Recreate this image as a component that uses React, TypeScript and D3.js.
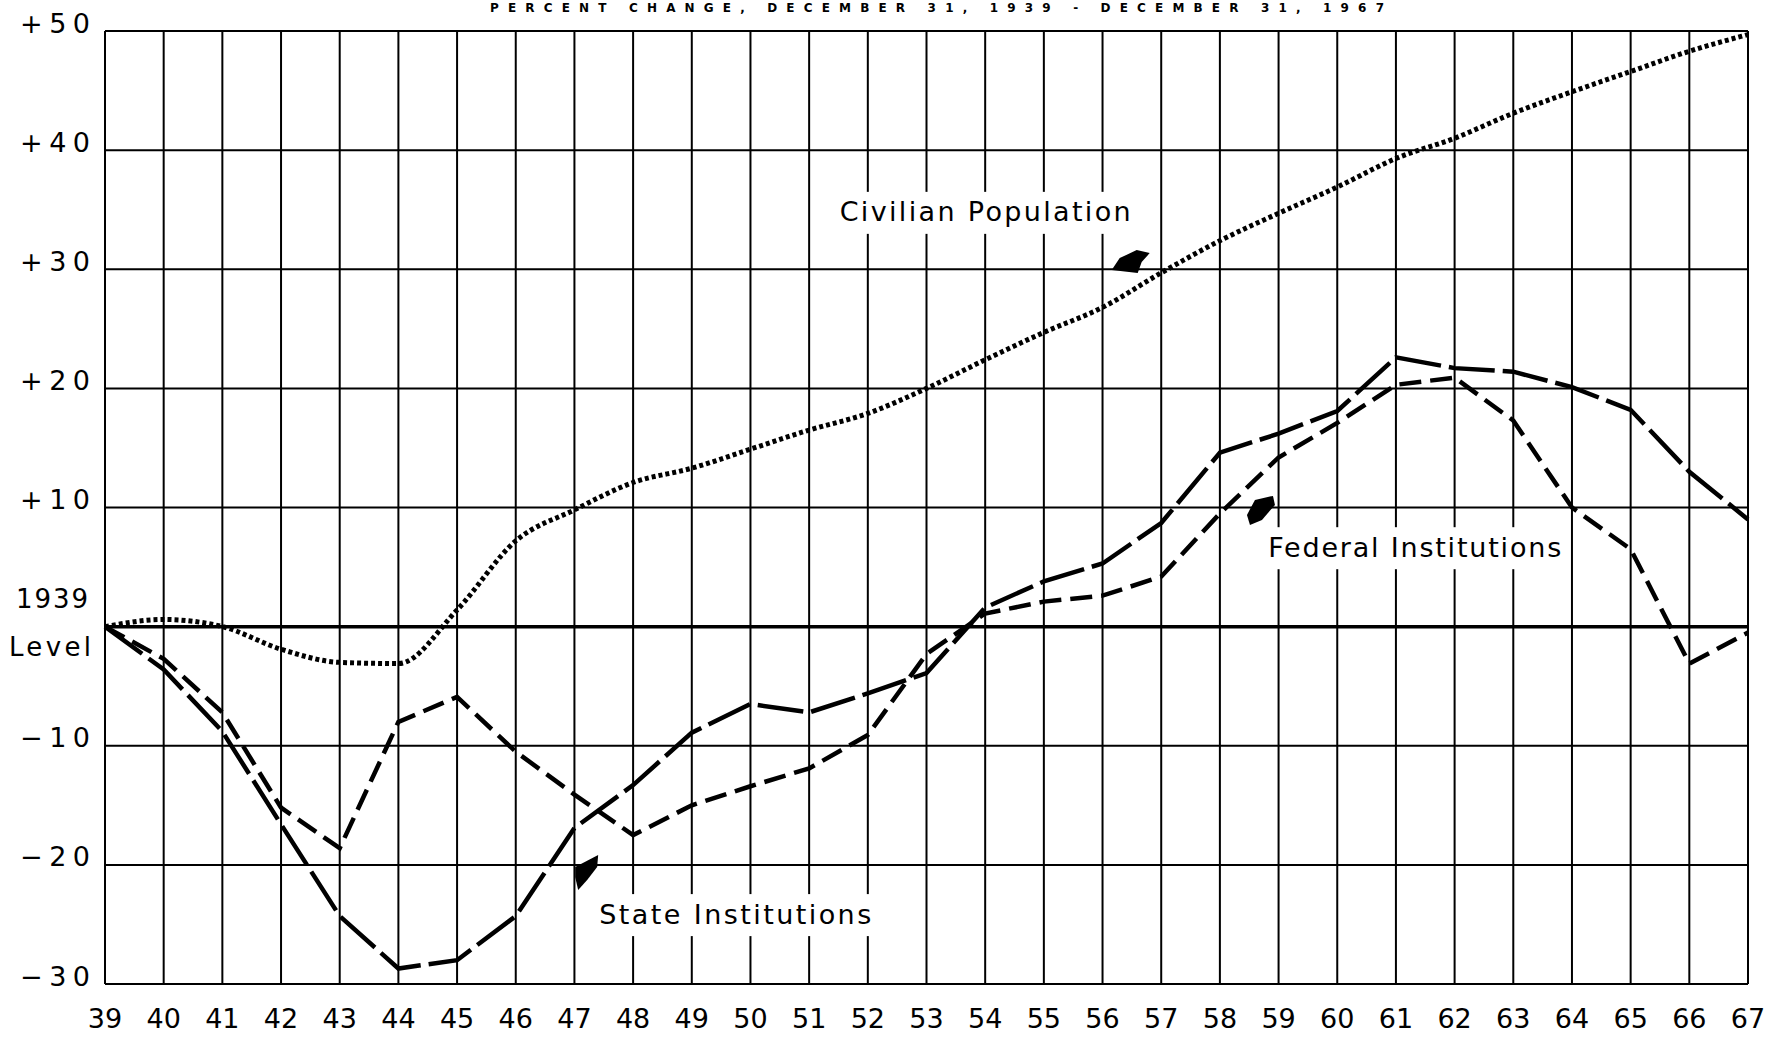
import React from 'react';
import * as d3 from 'd3';

// years 1939 .. 1967 (two-digit labels as on the chart)
const years = [39, 40, 41, 42, 43, 44, 45, 46, 47, 48, 49, 50, 51, 52, 53, 54, 55, 56, 57, 58, 59, 60, 61, 62, 63, 64, 65, 66, 67];

// percent change from the 1939 level
const civilian = [0, 0.6, 0, -1.9, -3.0, -3.1, 1.4, 7.2, 9.8, 12.1, 13.3, 14.9, 16.5, 17.9, 20.0, 22.4, 24.7, 26.8, 29.7, 32.4, 34.7, 36.9, 39.3, 41.0, 43.1, 44.9, 46.6, 48.3, 49.7];
const stateInst = [0, -3.6, -8.8, -16.6, -24.3, -28.7, -28.0, -24.3, -16.9, -13.3, -8.9, -6.5, -7.2, -5.6, -3.9, 1.6, 3.8, 5.3, 8.7, 14.6, 16.2, 18.1, 22.6, 21.7, 21.4, 20.1, 18.2, 13.0, 9.0];
const federalInst = [0, -2.7, -7.2, -15.2, -18.6, -8.0, -5.9, -10.5, -14.1, -17.5, -15.0, -13.4, -11.9, -9.1, -2.3, 1.1, 2.1, 2.6, 4.2, 9.5, 14.2, 17.1, 20.3, 20.9, 17.3, 10.0, 6.5, -3.1, -0.5];

const yTicks = [50, 40, 30, 20, 10, 0, -10, -20, -30];
const yTickLabels = ['+50', '+40', '+30', '+20', '+10', '', '\u221210', '\u221220', '\u221230'];

const title = 'PERCENT CHANGE, DECEMBER 31, 1939 - DECEMBER 31, 1967';

const W = 1786;
const H = 1039;
const font = '"DejaVu Sans", sans-serif';

const App = () => {
  const x = d3.scaleLinear().domain([39, 67]).range([105, 1748]);
  const y = d3.scaleLinear().domain([-30, 50]).range([984, 31]);

  const line = (vals: number[], curve: d3.CurveFactory) =>
    d3.line<number>()
      .x((d, i) => x(years[i]))
      .y(d => y(d))
      .curve(curve)(vals) || '';

  // label boxes + arrows, anchored in data units
  const labels = [
    { text: 'Civilian Population', yr: 54.0, v: 34.65, len: 291, arrow: { yr: 56.48, v: 30.6, pts: [[-19, 8], [-11, -4], [6, -12], [19, -9], [11, 0], [7, 11]] } },
    { text: 'Federal Institutions', yr: 61.32, v: 6.5, len: 293, arrow: { yr: 58.7, v: 9.8, pts: [[-6, -10], [12, -14], [14, -5], [1, 10], [-11, 15], [-14, 5]] } },
    { text: 'State Institutions', yr: 49.74, v: -24.3, len: 272, arrow: { yr: 47.2, v: -20.6, pts: [[-11, -5], [12, -17], [11, -5], [1, 8], [-8, 18], [-11, 5]] } },
  ];

  return (
    <svg width={W} height={H} style={{ position: 'absolute', left: 0, top: 0, background: '#fff' }}>
      <rect width={W} height={H} fill="#fff" />
      <text x={937} y={12} textAnchor="middle" fontFamily={font} fontSize={12} fontWeight="bold" textLength={894} lengthAdjust="spacing">{title}</text>

      {/* grid */}
      {years.map(yr => (
        <line key={'v' + yr} x1={x(yr)} x2={x(yr)} y1={y(50)} y2={y(-30)} stroke="#000" strokeWidth={2} />
      ))}
      {yTicks.map(t => (
        <line key={'h' + t} x1={x(39)} x2={x(67)} y1={y(t)} y2={y(t)} stroke="#000" strokeWidth={t === 0 ? 3.5 : 2} />
      ))}

      {/* label backgrounds break the grid */}
      {labels.map(l => (
        <rect key={'bg' + l.text} x={x(l.yr) - l.len / 2 - 8} y={y(l.v) - 22} width={l.len + 16} height={42} fill="#fff" />
      ))}

      {/* y axis labels */}
      {yTicks.map((t, i) => (
        <text key={'yl' + t} x={90} y={y(t) - 6} textAnchor="end" dominantBaseline="middle" fontFamily={font} fontSize={27} textLength={yTickLabels[i] ? 70 : undefined}>{yTickLabels[i]}</text>
      ))}
      <text x={88} y={y(0) - 26} textAnchor="end" dominantBaseline="middle" fontFamily={font} fontSize={26} textLength={72}>1939</text>
      <text x={91} y={y(0) + 22} textAnchor="end" dominantBaseline="middle" fontFamily={font} fontSize={26} textLength={82}>Level</text>

      {/* x axis labels */}
      {years.map(yr => (
        <text key={'xl' + yr} x={x(yr)} y={1020} textAnchor="middle" dominantBaseline="middle" fontFamily={font} fontSize={27}>{yr}</text>
      ))}

      {/* series */}
      <path d={line(civilian, d3.curveMonotoneX)} fill="none" stroke="#000" strokeWidth={5} strokeDasharray="4 3" />
      <path d={line(stateInst, d3.curveLinear)} fill="none" stroke="#000" strokeWidth={4.5} strokeDasharray="46 8" />
      <path d={line(federalInst, d3.curveLinear)} fill="none" stroke="#000" strokeWidth={4.5} strokeDasharray="22 9" />

      {/* annotations */}
      {labels.map(l => (
        <g key={'lab' + l.text}>
          <text x={x(l.yr)} y={y(l.v)} textAnchor="middle" dominantBaseline="middle" fontFamily={font} fontSize={27} textLength={l.len} lengthAdjust="spacing">{l.text}</text>
          <polygon points={l.arrow.pts.map(p => `${x(l.arrow.yr) + p[0]},${y(l.arrow.v) + p[1]}`).join(' ')} fill="#000" />
        </g>
      ))}
    </svg>
  );
};

export default App;
